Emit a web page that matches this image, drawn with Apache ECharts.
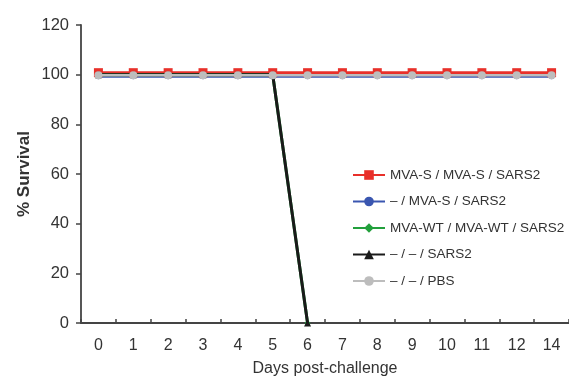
<!DOCTYPE html>
<html><head><meta charset="utf-8">
<script src="https://cdn.jsdelivr.net/npm/echarts@6/dist/echarts.min.js"></script>
<style>html,body{margin:0;padding:0;background:#fff}#c{width:569px;height:379px}</style>
</head><body><div id="c"></div>
<script>
const days = ['0','1','2','3','4','5','6','7','8','9','10','11','12','14'];
const yTicks = [0,20,40,60,80,100,120];
const seriesNames = ['MVA-S / MVA-S / SARS2','– / MVA-S / SARS2','MVA-WT / MVA-WT / SARS2','– / – / SARS2','– / – / PBS'];
const mvaS_mvaS = [100.8,100.8,100.8,100.8,100.8,100.8,100.8,100.8,100.8,100.8,100.8,100.8,100.8,100.8];
const none_mvaS = [99.4,99.4,99.4,99.4,99.4,99.4,99.4,99.4,99.4,99.4,99.4,99.4,99.4,99.4];
const mvaWT = [100,100,100,100,100,100,0,null,null,null,null,null,null,null];
const none_sars2 = [100,100,100,100,100,100,0,null,null,null,null,null,null,null];
const pbs = [99.8,99.8,99.8,99.8,99.8,99.8,99.8,99.8,99.8,99.8,99.8,99.8,99.8,99.8];

const colors = ['#e8302a','#3a56b0','#22a03c','#1a1a1a','#bdbdbd'];
const symbols = ['rect','circle','diamond','triangle','circle'];
const sizes = [9,6,6,7,8];
const data = [mvaS_mvaS,none_mvaS,mvaWT,none_sars2,pbs];
const font = "'Liberation Sans', Arial, sans-serif";

const chart = echarts.init(document.getElementById('c'));
chart.setOption({
  animation:false,
  grid:{left:81,right:0,top:25,bottom:56,outerBoundsMode:'none',containLabel:false},
  legend:{
    orient:'vertical', left:347, top:163, itemGap:12.5, itemWidth:32, itemHeight:12,
    textStyle:{fontFamily:"'Liberation Sans Narrow','Arial Narrow','Liberation Sans',sans-serif",fontSize:13.5,color:'#333'},
    data:seriesNames
  },
  xAxis:{
    type:'category', data:days, boundaryGap:true,
    name:'Days post-challenge', nameLocation:'middle', nameGap:38,
    nameTextStyle:{fontFamily:font,fontSize:16,color:'#333'},
    axisLine:{lineStyle:{color:'#444',width:1.8}},
    axisTick:{show:true,inside:true,alignWithLabel:false,length:4,lineStyle:{color:'#444',width:1.5}},
    axisLabel:{fontFamily:font,fontSize:16,color:'#333',margin:15}
  },
  yAxis:{
    type:'value', min:yTicks[0], max:yTicks[yTicks.length-1], interval:20,
    name:'% Survival', nameLocation:'middle', nameGap:48, nameMoveOverlap:false,
    nameTextStyle:{fontFamily:font,fontSize:17,fontWeight:'bold',color:'#333'},
    axisLine:{show:true,lineStyle:{color:'#444',width:1.8}},
    axisTick:{show:true,length:5,lineStyle:{color:'#444',width:1.5}},
    splitLine:{show:false},
    axisLabel:{fontFamily:font,fontSize:16.5,color:'#333',margin:12}
  },
  series: seriesNames.map((n,i)=>({
    name:n, type:'line', data:data[i], symbol:symbols[i], symbolSize:sizes[i],
    showAllSymbol:true, connectNulls:false,
    lineStyle:{color:colors[i],width:i===4?2.5:3},
    itemStyle:{color:colors[i]},
    z: [3,2,4,5,6][i]
  }))
});
</script></body></html>
